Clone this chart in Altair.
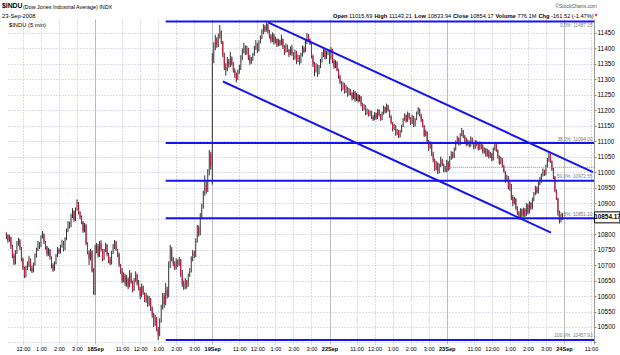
import altair as alt
import pandas as pd

# ---------------- data ----------------
DAYS = ["17Sep", "18Sep", "19Sep", "22Sep", "23Sep", "24Sep"]
BARS_PER_DAY = 78
HOUR_OFFSETS = [18, 30, 42, 54, 66]
HOUR_LABELS = ["11:00", "12:00", "1:00", "2:00", "3:00"]
FIRST_POS = 19
FIRST_OPEN = 10800

close_17 = [10795, 10780, 10790,
            10760, 10730, 10705, 10740,
            10770, 10780, 10755,
            10720, 10690, 10665, 10690, 10700,
            10720, 10690,
            10680, 10700,
            10730, 10750, 10770, 10760,
            10790, 10800, 10775,
            10760, 10735, 10750, 10725,
            10700, 10685, 10705,
            10730, 10750, 10740,
            10760, 10775, 10750, 10785,
            10810, 10835, 10825,
            10860, 10875, 10845,
            10880, 10900, 10870, 10855,
            10840, 10810, 10830,
            10770, 10740, 10720,
            10745, 10680, 10612]
high_17 = [10806, 10800, 10798,
           10792, 10765, 10738, 10748,
           10778, 10788, 10784,
           10758, 10724, 10695, 10698, 10712,
           10730, 10722,
           10698, 10708,
           10738, 10756, 10778, 10774,
           10796, 10810, 10802,
           10778, 10762, 10756, 10752,
           10728, 10706, 10712,
           10736, 10758, 10754,
           10766, 10782, 10778, 10790,
           10818, 10842, 10840,
           10866, 10884, 10876,
           10886, 10912, 10904, 10874,
           10860, 10842, 10836,
           10832, 10774, 10748,
           10752, 10748, 10690]
low_17 = [10784, 10772, 10775,
          10752, 10722, 10700, 10702,
          10736, 10762, 10748,
          10712, 10684, 10658, 10660, 10684,
          10694, 10680,
          10675, 10676,
          10698, 10724, 10745, 10752,
          10758, 10786, 10768,
          10750, 10728, 10730, 10718,
          10690, 10678, 10682,
          10702, 10726, 10736,
          10738, 10756, 10744, 10748,
          10780, 10806, 10818,
          10822, 10852, 10840,
          10842, 10876, 10864, 10848,
          10832, 10804, 10806,
          10764, 10735, 10700,
          10715, 10676, 10605]

close_18 = [10745,
            10760, 10730, 10770,
            10750, 10720, 10745, 10765, 10735,
            10715, 10705,
            10740, 10760, 10775, 10750, 10735,
            10700, 10680, 10650, 10665, 10640,
            10655, 10630, 10670, 10645, 10620, 10650, 10670, 10640,
            10625, 10600, 10630, 10610, 10585, 10600, 10575,
            10590, 10560, 10540, 10510, 10530, 10490,
            10475,
            10520, 10560, 10600, 10575, 10620, 10600,
            10700, 10750, 10720,
            10705, 10690, 10715, 10700, 10720,
            10670, 10640, 10625, 10650,
            10635, 10665, 10680,
            10720, 10740, 10730,
            10780, 10820, 10800, 10855,
            10890, 10930, 10960, 10940,
            11000, 11060, 11020]
high_18 = [10765,
           10772, 10768, 10778,
           10780, 10752, 10752, 10772, 10768,
           10740, 10726,
           10746, 10768, 10781, 10778, 10752,
           10740, 10704, 10690, 10676, 10672,
           10668, 10660, 10684, 10676, 10650, 10658, 10680, 10672,
           10652, 10630, 10640, 10634, 10612, 10610, 10602,
           10600, 10594, 10566, 10546, 10540, 10532,
           10500,
           10528, 10572, 10610, 10610, 10642, 10630,
           10712, 10765, 10758,
           10726, 10712, 10722, 10718, 10726,
           10718, 10684, 10650, 10658,
           10652, 10672, 10690,
           10728, 10749, 10746,
           10786, 10830, 10828, 10868,
           10898, 10940, 10990, 10970,
           11010, 11072, 11066]
low_18 = [10603,
          10738, 10724, 10726,
          10744, 10712, 10716, 10742, 10728,
          10706, 10700,
          10702, 10736, 10752, 10746, 10726,
          10694, 10672, 10642, 10644, 10632,
          10630, 10622, 10628, 10640, 10612, 10616, 10646, 10634,
          10618, 10590, 10596, 10604, 10580, 10578, 10565,
          10568, 10552, 10530, 10500, 10504, 10486,
          10458,
          10470, 10514, 10556, 10562, 10570, 10592,
          10596, 10690, 10712,
          10696, 10684, 10686, 10694, 10698,
          10662, 10630, 10620, 10622,
          10624, 10630, 10662,
          10676, 10712, 10722,
          10726, 10772, 10792, 10796,
          10848, 10882, 10924, 10930,
          10936, 10990, 11008]

close_19 = [11360,
            11400, 11430, 11410, 11440,
            11455,
            11420, 11380, 11340,
            11330, 11360, 11345,
            11370, 11350, 11330,
            11315, 11300, 11325, 11335,
            11370, 11390, 11405, 11385, 11400,
            11370, 11355, 11365, 11380,
            11400, 11415, 11395, 11420, 11435,
            11450, 11470, 11460, 11478, 11455,
            11440, 11425, 11445, 11420, 11430, 11410, 11425, 11415,
            11430, 11405, 11390, 11410, 11395, 11380, 11400,
            11385, 11370, 11390, 11360, 11375, 11355,
            11380, 11400, 11390, 11420,
            11440, 11430, 11415,
            11375, 11350, 11330, 11345, 11320, 11340, 11360,
            11380, 11395, 11370, 11385, 11388]
high_19 = [11385,
           11420, 11444, 11436, 11448,
           11476,
           11458, 11424, 11386,
           11352, 11372, 11366,
           11389, 11374, 11356,
           11336, 11322, 11332, 11347,
           11378, 11400, 11418, 11410, 11408,
           11402, 11379, 11372, 11386,
           11408, 11427, 11418, 11426, 11442,
           11462, 11478, 11476, 11487, 11480,
           11460, 11446, 11452, 11448, 11438, 11432, 11432, 11428,
           11444, 11432, 11410, 11416, 11412, 11398, 11406,
           11411, 11388, 11396, 11392, 11380, 11378,
           11386, 11410, 11406, 11427,
           11450, 11446, 11432,
           11420, 11380, 11356, 11352, 11348, 11346, 11366,
           11388, 11398, 11396, 11392, 11394]
low_19 = [10960,
          11352, 11394, 11402, 11404,
          11432,
          11414, 11372, 11330,
          11312, 11326, 11338,
          11340, 11344, 11322,
          11305, 11290, 11298, 11318,
          11330, 11362, 11384, 11378, 11380,
          11362, 11347, 11350, 11360,
          11376, 11395, 11385, 11390, 11416,
          11430, 11446, 11452, 11454, 11448,
          11432, 11418, 11420, 11412, 11416, 11405, 11406, 11408,
          11410, 11398, 11379, 11386, 11388, 11372, 11378,
          11376, 11362, 11364, 11350, 11356, 11347,
          11352, 11374, 11384, 11388,
          11414, 11420, 11411,
          11368, 11340, 11310, 11322, 11308, 11316, 11336,
          11354, 11372, 11364, 11366, 11378]

close_22 = [11370, 11395, 11360, 11340, 11355, 11330, 11310,
            11290, 11270, 11285, 11260, 11275, 11250, 11265,
            11255, 11240, 11260, 11235, 11250, 11230, 11245,
            11220, 11205, 11215, 11190, 11200, 11185, 11195,
            11180, 11170, 11190, 11175, 11200, 11185, 11170,
            11190, 11210, 11195, 11215, 11200, 11180,
            11160, 11140, 11150, 11125, 11135, 11115, 11130,
            11150, 11170, 11185, 11165, 11190, 11175,
            11160, 11180, 11150, 11170, 11190, 11205, 11185,
            11170, 11150, 11120, 11130, 11100, 11080, 11095,
            11060, 11040, 11010, 11030, 11000,
            11020, 11040, 11025, 11005, 11015.69]
high_22 = [11396, 11404, 11398, 11366, 11362, 11358, 11334,
           11315, 11294, 11292, 11288, 11282, 11276, 11272,
           11268, 11258, 11266, 11262, 11256, 11252, 11250,
           11246, 11224, 11220, 11216, 11206, 11202, 11200,
           11198, 11184, 11194, 11192, 11204, 11203, 11188,
           11196, 11215, 11212, 11222, 11218, 11202,
           11184, 11162, 11156, 11152, 11140, 11136, 11136,
           11154, 11175, 11190, 11186, 11196, 11192,
           11178, 11186, 11182, 11174, 11196, 11210, 11206,
           11188, 11172, 11152, 11136, 11132, 11104, 11100,
           11098, 11066, 11044, 11036, 11032,
           11028, 11050, 11044, 11028, 11020]
low_22 = [11350, 11364, 11352, 11334, 11336, 11326, 11302,
          11284, 11262, 11266, 11254, 11256, 11244, 11248,
          11248, 11232, 11236, 11228, 11230, 11225, 11228,
          11212, 11198, 11200, 11184, 11186, 11180, 11182,
          11172, 11165, 11168, 11170, 11172, 11180, 11166,
          11168, 11186, 11190, 11192, 11196, 11176,
          11155, 11132, 11136, 11118, 11120, 11110, 11112,
          11128, 11146, 11166, 11160, 11162, 11170,
          11152, 11156, 11146, 11148, 11168, 11186, 11180,
          11162, 11145, 11114, 11116, 11094, 11068, 11076,
          11052, 11032, 11004, 11006, 10994,
          10996, 11016, 11020, 11000, 11000]

close_23 = [11030, 11010, 11045, 11060, 11050, 11075,
            11095, 11110, 11090, 11120, 11135, 11115, 11105,
            11090, 11100, 11085, 11110, 11095, 11080, 11100, 11090, 11075, 11095,
            11085, 11065, 11075, 11055,
            11070, 11050, 11060, 11040, 11075, 11090, 11070,
            11050, 11030, 11045, 11020,
            11000, 10975, 10985, 10950, 10960,
            10920, 10900, 10915, 10885,
            10870, 10850, 10880, 10860,
            10880, 10860, 10895, 10870, 10900, 10885, 10910,
            10930, 10950, 10935, 10965, 10975,
            10990, 11005, 10995, 11020,
            11040, 11058, 11035,
            11010, 10985,
            10940, 10915,
            10870, 10845, 10860, 10854.17]
high_23 = [11040, 11036, 11052, 11068, 11066, 11080,
           11102, 11118, 11112, 11126, 11143.21, 11136, 11120,
           11112, 11106, 11102, 11116, 11112, 11098, 11104, 11102, 11092, 11100,
           11097, 11090, 11080, 11078,
           11076, 11072, 11066, 11062, 11080, 11095, 11094,
           11074, 11054, 11050, 11046,
           11024, 11004, 10992, 10988, 10972,
           10962, 10926, 10920, 10916,
           10890, 10874, 10884, 10882,
           10886, 10884, 10900, 10898, 10906, 10904, 10918,
           10936, 10956, 10954, 10970, 10985,
           10996, 11012, 11008, 11024,
           11046, 11065, 11060,
           11038, 11014,
           10988, 10944,
           10918, 10876, 10866, 10868]
low_23 = [11000, 11004, 11008, 11040, 11044, 11046,
          11070, 11090, 11086, 11088, 11116, 11110, 11098,
          11084, 11086, 11080, 11082, 11090, 11074, 11076, 11084, 11070, 11072,
          11074, 11060, 11060, 11050,
          11050, 11044, 11046, 11035, 11038, 11070, 11066,
          11044, 11024, 11026, 11015,
          11012, 10966, 10970, 10944, 10940,
          10910, 10890, 10896, 10878,
          10862, 10846, 10848, 10852,
          10856, 10855, 10858, 10864, 10866, 10878, 10880,
          10906, 10926, 10930, 10932, 10958,
          10966, 10986, 10988, 10990,
          11015, 11034, 11030,
          11004, 10978,
          10935, 10910,
          10860, 10833.94, 10838, 10846]

FIB_PCT = ["0.0%", "38.2%", "50.0%", "61.8%", "100.0%"]
FIB_VAL = [11487.15, 11094.00, 10972.55, 10851.10, 10457.93]
FIB_START = 125          # bar index where the retracement lines begin

# trend channel (bar index, price)
CH_X1 = [193.1, 163.1]
CH_Y1 = [11484, 11293]
CH_X2 = [409.3, 381.4]
CH_Y2 = [11000, 10805]

PREV_CLOSE = 11015.69
PREV_START = 312
LAST_CLOSE = 10854.17

Y_TICKS = list(range(10450, 11451, 50))

TITLE_SYM = "$INDU"
TITLE_NAME = "(Dow Jones Industrial Average) INDX"
DATE_TXT = "23-Sep-2008"
PANEL_TXT = "$INDU (5 min)"
COPY_TXT = "\u00a9StockCharts.com"
QUOTE = [("Open", True), ("11015.69", False), ("High", True), ("11143.21", False),
         ("Low", True), ("10833.94", False), ("Close", True), ("10854.17", False),
         ("Volume", True), ("776.1M", False), ("Chg", True), ("-161.52 (-1.47%)", False)]

# ---------------- layout ----------------
PAD_L, PAD_T, PAD_R, PAD_B = 7, 19, 26, 11
W, H = 587, 325
X_DOM = [19.4, 410]
Y_DOM = [10445, 11495]
FONT = "Liberation Sans"
BLUE = "#1414f0"
QUOTE_X = [333, 349, 374.5, 389, 414.5, 427.5, 453, 470, 495.5, 517.5, 538.5, 551]

closes = close_17 + close_18 + close_19 + close_22 + close_23
highs = high_17 + high_18 + high_19 + high_22 + high_23
lows = low_17 + low_18 + low_19 + low_22 + low_23
assert len(closes) == len(highs) == len(lows), (len(closes), len(highs), len(lows))

opens = [FIRST_OPEN] + closes[:-1]
rows = []
for i, (o, h, l, c) in enumerate(zip(opens, highs, lows, closes)):
    rows.append({"pos": FIRST_POS + i, "open": o, "close": c,
                 "hi": max(h, o, c), "lo": min(l, o, c), "down": c < o})
df = pd.DataFrame(rows)
df_down = df[df["down"]]

x_ticks = [d * BARS_PER_DAY + off for d in range(len(DAYS))
           for off in [0] + HOUR_OFFSETS
           if X_DOM[0] <= d * BARS_PER_DAY + off <= X_DOM[1]]
day_arr = "[" + ",".join("'%s'" % d for d in DAYS) + "]"
hour_expr = " : ".join("datum.value %% 78 === %d ? '%s'" % (o, l)
                       for o, l in zip(HOUR_OFFSETS, HOUR_LABELS)) + " : ''"
label_expr = "datum.value %% 78 === 0 ? %s[floor(datum.value / 78)] : (%s)" % (day_arr, hour_expr)
is_day = "datum.value % 78 === 0"

xs = alt.Scale(domain=X_DOM, nice=False, zero=False)
ys = alt.Scale(domain=Y_DOM, nice=False, zero=False)

x_axis = alt.Axis(values=x_ticks, labelExpr=label_expr, title=None,
                  grid=True,
                  gridColor={"condition": {"test": is_day, "value": "#bcbcbc"}, "value": "#b8b8d2"},
                  gridDash={"condition": {"test": is_day, "value": []}, "value": [1, 2]},
                  labelFontWeight={"condition": {"test": is_day, "value": "bold"}, "value": "normal"},
                  ticks=False, domain=False, labelFont=FONT, labelFontSize=5.6,
                  labelColor="#000000", labelPadding=2, labelFlush=False, labelOverlap=False)
# the 10850 label sits under the last-value box, as in the original
y_axis = alt.Axis(orient="right", values=Y_TICKS, title=None,
                  labelExpr="(datum.value < 10500 || abs(datum.value - %s) < 25) ? '' : datum.label" % LAST_CLOSE,
                  format="d", grid=True, gridColor="#b8b8d2", gridDash=[1, 2],
                  tickSize=2, tickColor="#888888", domain=True, domainColor="#9a9a9a",
                  labelFont=FONT, labelFontSize=6.4, labelColor="#000000", labelPadding=1,
                  labelOverlap=False, labelFlush=False)


def X(field):
    return alt.X(field, type="quantitative", scale=xs, axis=x_axis)


def Y(field):
    return alt.Y(field, type="quantitative", scale=ys, axis=y_axis)


bars = alt.Chart(df).mark_rule(color="#303030", strokeWidth=1).encode(
    x=X("pos"), y=Y("lo"), y2="hi")
bars_red = alt.Chart(df_down).mark_rule(color="#e0103c", strokeWidth=1).encode(
    x=X("pos"), y=Y("open"), y2="close")

fib_df = pd.DataFrame({"pct": FIB_PCT, "val": FIB_VAL,
                       "x0": [FIB_START] * len(FIB_VAL), "x1": [X_DOM[1]] * len(FIB_VAL),
                       "lx": [X_DOM[1] - 1] * len(FIB_VAL)})
fib_df["lab"] = fib_df["pct"] + ": " + fib_df["val"].map(lambda v: "%.2f" % v)
fib_top = fib_df.iloc[:1]
fib_rest = fib_df.iloc[1:]
fib_lines = alt.Chart(fib_df).mark_rule(color=BLUE, strokeWidth=2).encode(
    x=X("x0"), x2="x1", y=Y("val"))
fib_text = alt.Chart(fib_rest).mark_text(align="right", baseline="bottom", dy=-1.5,
                                         font=FONT, fontSize=4.7, color="#7a7a7a").encode(
    x=X("lx"), y=Y("val"), text="lab:N")
fib_text_top = alt.Chart(fib_top).mark_text(align="right", baseline="top", dy=2,
                                            font=FONT, fontSize=4.7, color="#7a7a7a").encode(
    x=X("lx"), y=Y("val"), text="lab:N")

ch_df = pd.DataFrame({"x1": CH_X1, "y1": CH_Y1, "x2": CH_X2, "y2": CH_Y2})
channel = alt.Chart(ch_df).mark_rule(color=BLUE, strokeWidth=2).encode(
    x=X("x1"), y=Y("y1"), x2="x2", y2="y2")

prev_df = pd.DataFrame({"x0": [PREV_START], "x1": [X_DOM[1]], "v": [PREV_CLOSE]})
prev_line = alt.Chart(prev_df).mark_rule(color="#8a8a8a", strokeWidth=1, strokeDash=[1, 1]).encode(
    x=X("x0"), x2="x1", y=Y("v"))

# last value box on the right axis
half = 5.5 * (Y_DOM[1] - Y_DOM[0]) / H
box_df = pd.DataFrame({"v": [LAST_CLOSE], "top": [LAST_CLOSE + half], "bot": [LAST_CLOSE - half],
                       "txt": ["%.2f" % LAST_CLOSE]})
box = alt.Chart(box_df).mark_rect(fill="white", stroke="black", strokeWidth=1).encode(
    x=alt.value(W + 0.5), x2=alt.value(W + 26), y=Y("top"), y2="bot")
box_txt = alt.Chart(box_df).mark_text(font=FONT, fontSize=6.4, fontWeight="bold",
                                      color="black", align="center", baseline="middle").encode(
    x=alt.value(W + 13.5), y=Y("v"), text="txt:N")

# header texts (absolute page coordinates converted to plot coordinates)
hdr_bold = pd.DataFrame({
    "t": [TITLE_SYM] + [q for q, b in QUOTE if b],
    "x": [2] + [QUOTE_X[i] for i, (q, b) in enumerate(QUOTE) if b],
    "y": [6] + [15.5] * sum(1 for q, b in QUOTE if b),
    "fs": [6.8] + [5.7] * sum(1 for q, b in QUOTE if b)})
hdr_norm = pd.DataFrame({
    "t": [TITLE_NAME, DATE_TXT, PANEL_TXT] + [q for q, b in QUOTE if not b],
    "x": [23, 2, 9] + [QUOTE_X[i] for i, (q, b) in enumerate(QUOTE) if not b],
    "y": [6.5, 15.5, 24.5] + [15.5] * sum(1 for q, b in QUOTE if not b),
    "fs": [5.4, 5.8, 5.8] + [5.7] * sum(1 for q, b in QUOTE if not b)})
for d in (hdr_bold, hdr_norm):
    d["x"] = d["x"] - PAD_L
    d["y"] = d["y"] - PAD_T


def header(d, weight):
    return alt.Chart(d).mark_text(font=FONT, fontWeight=weight, align="left",
                                  baseline="middle", color="#000000").encode(
        x=alt.X("x:Q", scale=None, axis=None), y=alt.Y("y:Q", scale=None, axis=None),
        size=alt.Size("fs:Q", scale=None, legend=None), text="t:N")


copy_df = pd.DataFrame({"t": [COPY_TXT], "x": [597 - PAD_L], "y": [6 - PAD_T]})
copy_txt = alt.Chart(copy_df).mark_text(font=FONT, fontSize=5, align="right", baseline="middle",
                                        color="#555555").encode(
    x=alt.X("x:Q", scale=None, axis=None), y=alt.Y("y:Q", scale=None, axis=None), text="t:N")
tri_df = pd.DataFrame({"x": [596 - PAD_L], "y": [15.5 - PAD_T]})
tri = alt.Chart(tri_df).mark_point(shape="triangle-down", filled=True, color="#e0103c",
                                   size=10, opacity=1).encode(
    x=alt.X("x:Q", scale=None, axis=None), y=alt.Y("y:Q", scale=None, axis=None))

chart = alt.layer(
    bars, bars_red, prev_line, fib_lines, channel, fib_text, fib_text_top, box, box_txt,
    header(hdr_bold, "bold"), header(hdr_norm, "normal"), copy_txt, tri
).properties(
    width=W, height=H,
    autosize=alt.AutoSizeParams(type="none"),
    padding={"left": PAD_L, "top": PAD_T, "right": PAD_R, "bottom": PAD_B},
    background="white"
).configure_view(stroke=None)

chart.save("out.html", embed_options={"renderer": "svg", "actions": False})
